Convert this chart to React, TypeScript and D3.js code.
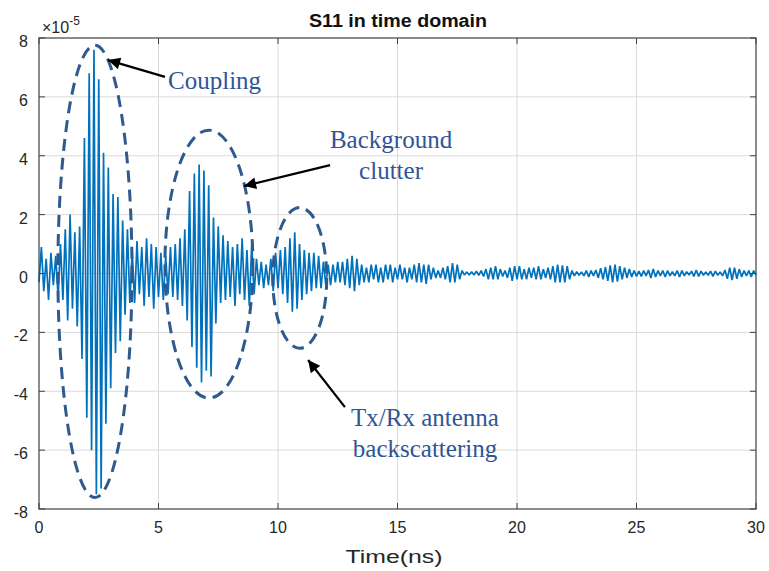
import * as d3 from "d3";
import React, { useRef, useEffect } from "react";

// S11 samples, units of 1e-5, one every 0.1 ns from 0 to 30 ns
const timeStep = 0.1;
const s11 = [
  -0.3, 0.9, -0.6, 0.5, -0.9, 0.7, -0.4, 0.6, -0.8, 1.0,
  -0.9, 1.5, -1.6, 2.0, -1.2, 1.4, -1.8, 1.6, -2.9, 4.6,
  -4.9, 6.8, -6.0, 7.6, -7.5, 6.6, -7.3, 4.1, -5.1, 3.6,
  -3.9, 2.7, -2.7, 2.6, -2.3, 1.8, -1.4, 1.5, -1.0, 0.8,
  -1.0, 1.1, -0.7, 0.9, -1.1, 1.2, -0.8, 1.0, -1.2, 0.9,
  -0.8, 0.7, -0.9, 0.6, -0.7, 0.9, -0.8, 1.0, -0.9, 1.2,
  -1.1, 1.5, -1.6, 2.8, -2.5, 3.4, -3.2, 3.7, -3.7, 3.5,
  -3.3, 3.0, -3.5, 1.9, -1.7, 1.6, -1.0, 1.3, -0.9, 1.1,
  -0.8, 0.9, -1.1, 1.0, -0.7, 1.2, -0.9, 0.8, -1.1, 1.0,
  -0.7, 0.5, -0.4, 0.4, -0.5, 0.3, -0.4, 0.5, -0.6, 0.7,
  -0.5, 0.8, -0.7, 0.9, -1.0, 1.2, -1.3, 1.4, -1.2, 1.0,
  -0.9, 0.8, -0.7, 0.7, -0.6, 0.7, -0.5, 0.6, -0.5, 0.4,
  -0.4, 0.3, -0.4, 0.3, -0.3, 0.4, -0.3, 0.4, -0.4, 0.5,
  -0.5, 0.6, -0.6, 0.5, -0.4, 0.3, -0.3, 0.2, -0.3, 0.3,
  -0.2, 0.3, -0.3, 0.2, -0.3, 0.3, -0.2, 0.3, -0.3, 0.2,
  -0.2, 0.3, -0.2, 0.2, -0.3, 0.2, -0.2, 0.3, -0.3, 0.35,
  -0.3, 0.3, -0.35, 0.3, -0.2, 0.2, -0.15, 0.1, -0.15, 0.2,
  -0.2, 0.25, -0.3, 0.35, -0.3, 0.3, -0.2, 0.1, -0.05, 0.05,
  -0.05, 0.06, -0.05, 0.08, -0.06, 0.1, -0.1, 0.15, -0.2, 0.2,
  -0.2, 0.25, -0.2, 0.15, -0.1, 0.1, -0.15, 0.2, -0.25, 0.25,
  -0.2, 0.25, -0.2, 0.15, -0.2, 0.2, -0.15, 0.2, -0.2, 0.25,
  -0.2, 0.15, -0.15, 0.2, -0.2, 0.25, -0.3, 0.3, -0.3, 0.28,
  -0.3, 0.25, -0.2, 0.1, -0.08, 0.06, -0.06, 0.05, -0.08, 0.1,
  -0.12, 0.1, -0.08, 0.12, -0.15, 0.18, -0.2, 0.22, -0.25, 0.28,
  -0.3, 0.3, -0.28, 0.25, -0.2, 0.2, -0.15, 0.15, -0.12, 0.1,
  -0.1, 0.08, -0.1, 0.1, -0.08, 0.12, -0.15, 0.15, -0.12, 0.1,
  -0.08, 0.1, -0.12, 0.1, -0.08, 0.06, -0.08, 0.1, -0.12, 0.1,
  -0.08, 0.06, -0.05, 0.08, -0.1, 0.12, -0.1, 0.08, -0.06, 0.05,
  -0.06, 0.08, -0.1, 0.08, -0.06, 0.05, -0.08, 0.12, -0.18, 0.2,
  -0.22, 0.2, -0.18, 0.15, -0.12, 0.1, -0.08, 0.1, -0.12, 0.1,
  -0.05,
];

const xTicks = [0, 5, 10, 15, 20, 25, 30];
const yTicks = [-8, -6, -4, -2, 0, 2, 4, 6, 8];

// annotations, in data units (ns, 1e-5)
const ellipses = [
  { t: 2.34, v: 0.07, rt: 1.55, rv: 7.68 },  // coupling
  { t: 7.11, v: 0.32, rt: 1.84, rv: 4.55 },  // background clutter
  { t: 10.91, v: -0.15, rt: 1.13, rv: 2.39 }, // tx/rx
];
const arrows = [
  { t1: 5.27, v1: 6.68, t2: 2.89, v2: 7.25 },
  { t1: 12.18, v1: 3.68, t2: 8.58, v2: 2.97 },
  { t1: 12.8, v1: -4.54, t2: 11.26, v2: -2.94 },
];
const notes = [
  { lines: ["Coupling"], t: 5.4, v: 6.27, anchor: "start" },
  { lines: ["Background", "clutter"], t: 14.73, v: 4.26, anchor: "middle" },
  { lines: ["Tx/Rx antenna", "backscattering"], t: 16.15, v: -5.19, anchor: "middle" },
];

export default function App() {
  const svgRef = useRef();
  const width = 769;
  const height = 571;
  const left = 39, right = 756, top = 38, bottom = 509;

  useEffect(() => {
    const svg = d3.select(svgRef.current);
    svg.selectAll("*").remove();

    const x = d3.scaleLinear().domain([0, 30]).range([left, right]);
    const y = d3.scaleLinear().domain([-8, 8]).range([bottom, top]);

    svg.append("rect").attr("width", width).attr("height", height).attr("fill", "white");

    // grid
    svg.append("g").selectAll("line").data(xTicks.slice(1, -1)).join("line")
      .attr("x1", d => x(d)).attr("x2", d => x(d))
      .attr("y1", top).attr("y2", bottom)
      .attr("stroke", "#dadada").attr("stroke-width", 1);
    svg.append("g").selectAll("line").data(yTicks.slice(1, -1)).join("line")
      .attr("x1", left).attr("x2", right)
      .attr("y1", d => y(d)).attr("y2", d => y(d))
      .attr("stroke", "#dadada").attr("stroke-width", 1);

    // signal
    const line = d3.line()
      .x((d, i) => x(i * timeStep))
      .y(d => y(d));
    svg.append("path")
      .datum(s11)
      .attr("d", line)
      .attr("fill", "none")
      .attr("stroke", "#0072BD")
      .attr("stroke-width", 1.7)
      .attr("stroke-linejoin", "bevel");

    // box + inward ticks on all sides
    svg.append("rect")
      .attr("x", left).attr("y", top)
      .attr("width", right - left).attr("height", bottom - top)
      .attr("fill", "none").attr("stroke", "#404040").attr("stroke-width", 1.2);
    const tk = 6;
    const ticks = svg.append("g").attr("stroke", "#404040").attr("stroke-width", 1);
    xTicks.forEach(d => {
      ticks.append("line").attr("x1", x(d)).attr("x2", x(d)).attr("y1", bottom).attr("y2", bottom - tk);
      ticks.append("line").attr("x1", x(d)).attr("x2", x(d)).attr("y1", top).attr("y2", top + tk);
    });
    yTicks.forEach(d => {
      ticks.append("line").attr("x1", left).attr("x2", left + tk).attr("y1", y(d)).attr("y2", y(d));
      ticks.append("line").attr("x1", right).attr("x2", right - tk).attr("y1", y(d)).attr("y2", y(d));
    });

    const sans = "'Liberation Sans', Arial, Helvetica, sans-serif";
    svg.append("g").selectAll("text").data(xTicks).join("text")
      .attr("x", d => x(d)).attr("y", bottom + 24)
      .attr("text-anchor", "middle")
      .style("font-family", sans).style("font-size", "16px").style("fill", "#262626")
      .text(d => d);
    svg.append("g").selectAll("text").data(yTicks).join("text")
      .attr("x", left - 11).attr("y", d => y(d) + 9)
      .attr("text-anchor", "end")
      .style("font-family", sans).style("font-size", "16px").style("fill", "#262626")
      .text(d => d);

    // exponent
    const ex = svg.append("text").attr("x", 42).attr("y", 33)
      .style("font-family", sans).style("font-size", "16px").style("fill", "#262626");
    ex.append("tspan").text("\u00d710");
    ex.append("tspan").attr("dy", -8).style("font-size", "12px").text("-5");

    svg.append("text")
      .attr("x", 398).attr("y", 27)
      .attr("text-anchor", "middle")
      .attr("textLength", 178).attr("lengthAdjust", "spacingAndGlyphs")
      .style("font-family", sans).style("font-size", "18px").style("font-weight", "bold")
      .style("fill", "#111")
      .text("S11 in time domain");

    svg.append("text")
      .attr("x", 394).attr("y", 563)
      .attr("text-anchor", "middle")
      .attr("textLength", 97).attr("lengthAdjust", "spacingAndGlyphs")
      .style("font-family", sans).style("font-size", "18px").style("fill", "#262626")
      .text("Time(ns)");

    // annotations
    svg.append("defs").append("marker")
      .attr("id", "head")
      .attr("viewBox", "0 0 10 10")
      .attr("refX", 10).attr("refY", 5)
      .attr("markerUnits", "userSpaceOnUse")
      .attr("markerWidth", 15).attr("markerHeight", 12)
      .attr("orient", "auto")
      .append("path").attr("d", "M0,0 L10,5 L0,10 z").attr("fill", "black");

    svg.append("g").selectAll("ellipse").data(ellipses).join("ellipse")
      .attr("cx", d => x(d.t)).attr("cy", d => y(d.v))
      .attr("rx", d => x(d.rt) - x(0)).attr("ry", d => y(0) - y(d.rv))
      .attr("fill", "none")
      .attr("stroke", "#2F5A8E").attr("stroke-width", 3)
      .attr("stroke-dasharray", "12 7");

    svg.append("g").selectAll("line").data(arrows).join("line")
      .attr("x1", d => x(d.t1)).attr("y1", d => y(d.v1))
      .attr("x2", d => x(d.t2)).attr("y2", d => y(d.v2))
      .attr("stroke", "black").attr("stroke-width", 2.2)
      .attr("marker-end", "url(#head)");

    const serif = "'Liberation Serif', 'Times New Roman', serif";
    notes.forEach(n => {
      const t = svg.append("text")
        .attr("text-anchor", n.anchor)
        .style("font-family", serif).style("font-size", "25px").style("fill", "#2F5597");
      n.lines.forEach((s, i) => {
        t.append("tspan").attr("x", x(n.t)).attr("y", y(n.v) + i * 30.5).text(s);
      });
    });
  }, []);

  return (
    <div style={{ position: "absolute", left: 0, top: 0 }}>
      <svg ref={svgRef} width={width} height={height}></svg>
    </div>
  );
}
